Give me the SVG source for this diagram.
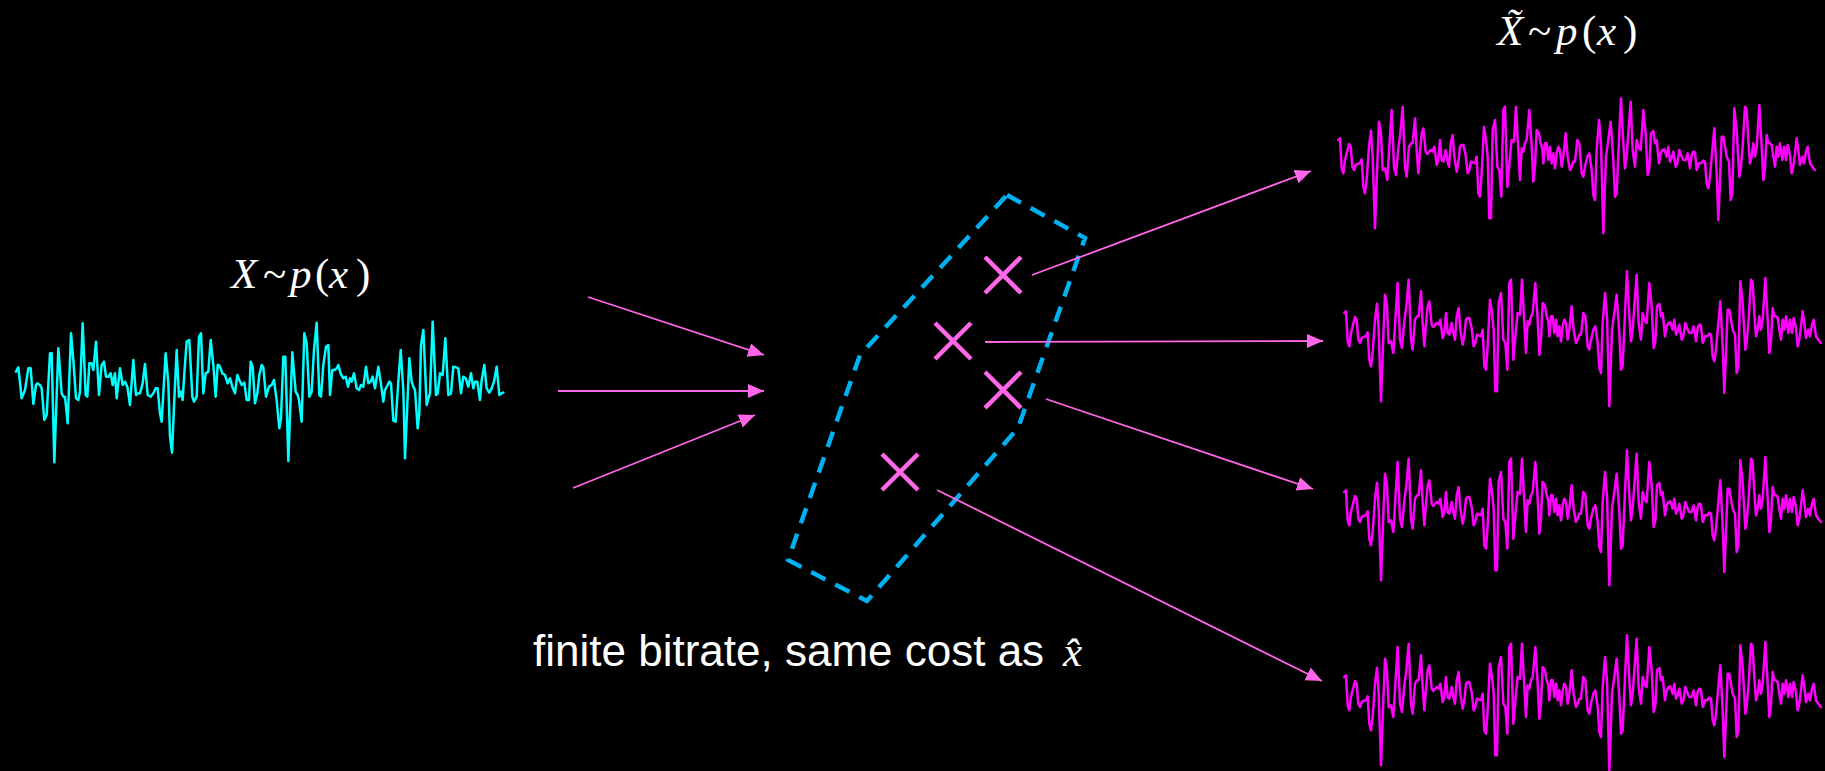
<svg xmlns="http://www.w3.org/2000/svg" width="1825" height="771" viewBox="0 0 1825 771">
<style>
.wave{fill:none;stroke-width:7.5;stroke-linejoin:round;stroke-linecap:round}
.cyan{stroke:#00FFFF}
.mag{stroke:#FF00FF}
.conn{stroke:#FF66E8;stroke-width:1.8;fill:none}
.cross{stroke:#FF66E8;stroke-width:4.5;fill:none}
.region{fill:none;stroke:#00B0F0;stroke-width:4.5;stroke-dasharray:16 11}
.math{font-family:"Liberation Serif","DejaVu Serif",serif;font-size:43px;fill:#FFFFFF}
.it{font-style:italic}
.label{font-family:"Liberation Sans",Arial,sans-serif;font-size:44px;fill:#FFFFFF}
</style>
<defs>
<marker id="ah" markerUnits="userSpaceOnUse" markerWidth="18" markerHeight="16" refX="16" refY="7" orient="auto">
<path d="M0,0 L16,7 L0,14 Z" fill="#FF66E8"/>
</marker>
<path id="wL" d="M48,365 L55,352 L65,445 L75,420 L85,355 L92,355 L100,462 L108,405 L112,400 L120,405 L125,415 L133,510 L140,495 L150,310 L155,310 L163,637 L175,295 L185,430 L190,440 L195,440 L203,520 L213,250 L220,330 L228,445 L235,450 L240,425 L248,220 L257,435 L262,440 L268,340 L275,340 L280,360 L288,275 L297,435 L305,345 L312,335 L318,380 L325,380 L332,370 L338,405 L345,370 L350,445 L360,355 L368,405 L375,395 L382,410 L390,465 L400,330 L408,435 L415,430 L420,430 L428,400 L435,342 L443,435 L452,440 L460,430 L467,415 L473,415 L480,490 L485,515 L490,430 L497,310 L505,400 L510,560 L516,608 L522,470 L530,300 L537,440 L543,425 L548,450 L553,370 L560,275 L568,270 L577,440 L582,455 L590,440 L597,260 L603,250 L610,430 L617,370 L625,365 L632,270 L640,345 L647,440 L653,345 L657,345 L662,355 L667,370 L675,375 L683,400 L690,385 L697,410 L705,430 L712,375 L718,390 L725,405 L733,398 L740,450 L747,450 L752,335 L758,350 L765,460 L772,430 L778,375 L785,345 L790,352 L798,440 L807,410 L815,405 L822,390 L830,450 L838,535 L843,505 L850,320 L856,320 L865,633 L877,307 L887,425 L893,435 L897,450 L905,515 L913,250 L920,280 L928,440 L935,425 L942,300 L950,218 L958,435 L963,440 L970,345 L978,290 L985,285 L990,435 L997,360 L1004,360 L1010,355 L1015,345 L1022,370 L1030,385 L1037,380 L1044,410 L1050,385 L1055,395 L1062,370 L1070,415 L1077,420 L1083,405 L1090,410 L1098,350 L1105,400 L1112,395 L1118,380 L1125,415 L1135,350 L1142,395 L1150,455 L1155,420 L1163,405 L1168,395 L1173,400 L1180,512 L1187,515 L1195,395 L1202,300 L1210,420 L1215,625 L1220,510 L1228,325 L1235,395 L1240,410 L1245,420 L1253,535 L1258,490 L1263,285 L1270,240 L1280,465 L1290,430 L1298,215 L1308,435 L1313,430 L1320,370 L1328,375 L1336,265 L1345,435 L1353,430 L1360,350 L1368,352 L1375,355 L1383,430 L1390,380 L1397,385 L1405,410 L1413,370 L1420,415 L1425,395 L1432,395 L1440,450 L1445,390 L1453,345 L1460,415 L1468,428 L1475,415 L1482,395 L1490,350 L1498,435 L1505,430 L1510,428"/>
<path id="wR" d="M115,420 L120,415 L125,505 L130,520 L135,480 L140,460 L147,432 L152,440 L157,500 L162,510 L167,495 L172,492 L180,490 L185,478 L190,560 L195,580 L200,540 L207,440 L213,392 L218,470 L225,685 L232,490 L237,365 L243,400 L248,510 L255,505 L262,540 L268,440 L275,330 L282,500 L288,525 L295,445 L301,400 L308,320 L315,500 L320,530 L327,440 L333,430 L338,430 L345,355 L350,450 L355,520 L360,455 L365,400 L370,385 L377,455 L382,462 L388,455 L393,450 L398,455 L403,440 L410,495 L415,480 L420,420 L425,480 L430,485 L437,450 L442,480 L447,500 L452,430 L458,405 L463,470 L470,515 L475,490 L480,440 L485,435 L490,435 L497,465 L503,520 L508,510 L513,485 L520,488 L525,490 L530,470 L535,580 L540,590 L545,520 L552,380 L558,420 L563,470 L568,655 L573,655 L578,390 L585,360 L592,500 L598,510 L604,590 L610,330 L615,320 L622,560 L630,470 L635,420 L642,425 L648,320 L655,450 L660,540 L665,445 L670,455 L675,430 L680,420 L688,330 L695,440 L700,545 L705,500 L710,390 L717,400 L722,430 L727,445 L730,490 L735,430 L740,430 L745,480 L750,440 L755,490 L760,460 L765,505 L770,460 L775,440 L780,450 L785,500 L790,470 L797,400 L803,470 L810,510 L815,500 L820,485 L825,485 L832,420 L838,430 L845,520 L850,530 L855,500 L862,470 L868,460 L875,510 L880,585 L885,600 L890,450 L897,360 L903,430 L910,700 L918,470 L925,420 L932,365 L940,480 L945,590 L950,580 L957,420 L963,295 L970,430 L975,505 L980,470 L985,400 L992,305 L998,450 L1005,500 L1010,420 L1017,445 L1022,450 L1030,330 L1037,400 L1043,525 L1048,505 L1053,400 L1060,393 L1065,430 L1070,420 L1077,490 L1082,460 L1088,450 L1093,448 L1100,470 L1105,440 L1110,485 L1115,475 L1120,455 L1127,500 L1132,490 L1138,450 L1145,470 L1150,480 L1157,480 L1163,460 L1170,505 L1175,465 L1180,455 L1185,458 L1190,510 L1197,490 L1203,490 L1210,482 L1215,485 L1220,550 L1225,565 L1230,530 L1237,450 L1243,385 L1250,520 L1255,660 L1260,540 L1265,410 L1270,410 L1275,440 L1280,470 L1287,485 L1292,600 L1297,580 L1303,325 L1310,390 L1318,530 L1322,510 L1328,440 L1335,320 L1340,330 L1345,420 L1350,490 L1355,470 L1360,430 L1365,470 L1370,440 L1378,315 L1385,440 L1390,540 L1395,505 L1400,405 L1405,430 L1410,430 L1415,435 L1420,470 L1425,500 L1430,440 L1435,470 L1440,430 L1447,480 L1452,440 L1458,480 L1463,435 L1470,465 L1475,520 L1480,500 L1485,460 L1490,415 L1495,450 L1500,495 L1507,470 L1512,490 L1518,455 L1523,440 L1530,490 L1537,500 L1545,510"/>
</defs>
<rect x="0" y="0" width="1825" height="771" fill="#000000"/>

<g id="source">
<use href="#wL" class="wave cyan" transform="translate(0,250) scale(0.33333)"/>
<text class="math" y="288"><tspan class="it" x="231">X</tspan><tspan x="263">~</tspan><tspan class="it" x="290">p</tspan><tspan x="315">(</tspan><tspan class="it" x="329">x</tspan><tspan x="356">)</tspan></text>
</g>

<g id="region">
<polygon class="region" points="1007,195 1085,238 1018,428 867,601 788,560 860,355"/>
</g>

<g id="points">
<path class="cross" d="M985,257 L1021,293 M1021,257 L985,293"/>
<path class="cross" d="M935,323 L971,359 M971,323 L935,359"/>
<path class="cross" d="M985,372 L1021,408 M1021,372 L985,408"/>
<path class="cross" d="M882,454 L918,490 M918,454 L882,490"/>
</g>

<g id="samples">
<use href="#wR" class="wave mag" transform="translate(1300,0) scale(0.33333)"/>
<use href="#wR" class="wave mag" transform="translate(1306,173) scale(0.33333)"/>
<use href="#wR" class="wave mag" transform="translate(1306,352) scale(0.33333)"/>
<use href="#wR" class="wave mag" transform="translate(1306,537) scale(0.33333)"/>
<text class="math" y="45"><tspan class="it" x="1497">X̃</tspan><tspan x="1528">~</tspan><tspan class="it" x="1556">p</tspan><tspan x="1582">(</tspan><tspan class="it" x="1597">x</tspan><tspan x="1623">)</tspan></text>
</g>

<g id="connectors">
<line class="conn" x1="588" y1="297" x2="764" y2="355" marker-end="url(#ah)"/>
<line class="conn" x1="558" y1="391" x2="764" y2="391" marker-end="url(#ah)"/>
<line class="conn" x1="573" y1="488" x2="755" y2="415" marker-end="url(#ah)"/>
<line class="conn" x1="1032" y1="275" x2="1311" y2="171" marker-end="url(#ah)"/>
<line class="conn" x1="985" y1="342" x2="1323" y2="341" marker-end="url(#ah)"/>
<line class="conn" x1="1046" y1="399" x2="1313" y2="489" marker-end="url(#ah)"/>
<line class="conn" x1="937" y1="490" x2="1322" y2="681" marker-end="url(#ah)"/>
</g>

<g id="caption">
<text class="label" x="533" y="666">finite bitrate, same cost as</text>
<text class="math it" x="1063" y="666" font-size="44">x̂</text>
</g>
</svg>
